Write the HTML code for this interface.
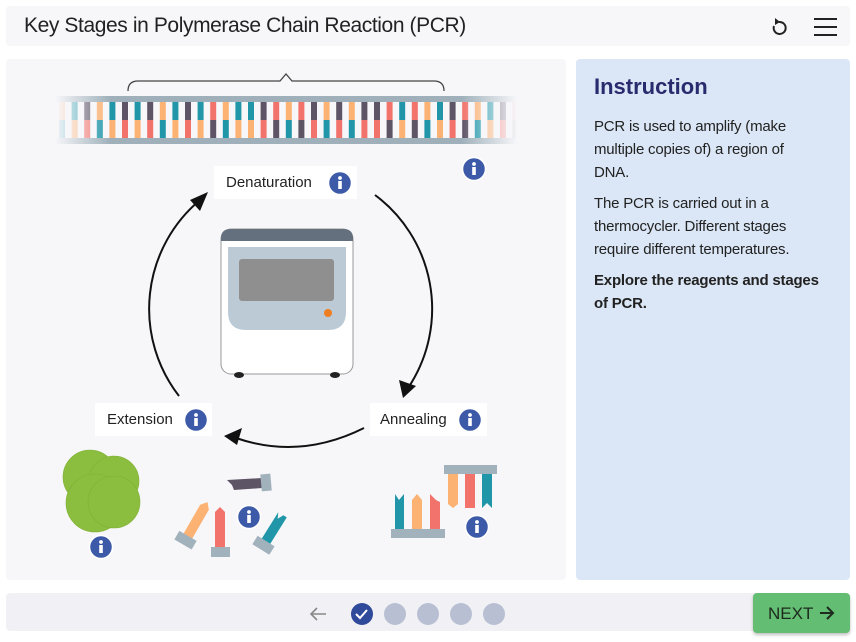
<!DOCTYPE html>
<html><head><meta charset="utf-8"><style>
*{margin:0;padding:0;box-sizing:border-box}
body{width:856px;height:642px;background:#fff;font-family:"Liberation Sans",sans-serif;position:relative;overflow:hidden}
.abs{position:absolute}
#hdr{left:6px;top:6px;width:844px;height:40px;background:#f7f7f9;border-radius:4px}
#hdr span{position:absolute;left:18px;top:8px;font-size:21px;color:#222;letter-spacing:-0.4px}
#left{left:6px;top:59px;width:560px;height:521px;background:#f7f7fa;border-radius:4px}
#right{left:576px;top:59px;width:274px;height:521px;background:#dbe7f6;border-radius:4px}
#right h2{position:absolute;left:18px;top:15px;font-size:22px;color:#2a2a6e;font-weight:bold}
#right p{position:absolute;left:18px;width:224px;font-size:15px;line-height:23px;color:#222;letter-spacing:-0.2px}
#foot{left:6px;top:593px;width:844px;height:38px;background:#f1f1f5;border-radius:4px}
#next{left:753px;top:593px;width:97px;height:40px;background:#63bd72;border-radius:4px;box-shadow:0 2px 3px rgba(0,0,0,.25);color:#1d2a1d;font-size:17px;padding:11px 0 0 15px}
.lbl{position:absolute;background:#fff;font-size:15px;color:#222}
.o{fill:#fbb273}.t{fill:#2196a8}.d{fill:#5d5466}.c{fill:#f2736b}
</style></head><body>
<div id="hdr" class="abs"><span>Key Stages in Polymerase Chain Reaction (PCR)</span>
<svg class="abs" style="left:760px;top:8px" width="80" height="26">
<path d="M13 8 A6 6 0 1 1 8 12" fill="none" stroke="#222" stroke-width="2"/><polygon points="9,4 14,8 9,11" fill="#222"/>
<rect x="48" y="4" width="23" height="2" fill="#222"/><rect x="48" y="12" width="23" height="2" fill="#222"/><rect x="48" y="20" width="23" height="2" fill="#222"/>
</svg></div>
<div id="left" class="abs"></div>
<div id="right" class="abs"><h2>Instruction</h2>
<p style="top:56px">PCR is used to amplify (make multiple copies of) a region of DNA.</p>
<p style="top:133px">The PCR is carried out in a thermocycler. Different stages require different temperatures.</p>
<p style="top:210px;font-weight:bold;width:240px">Explore the reagents and stages of PCR.</p></div>
<div id="foot" class="abs"></div>
<div id="next" class="abs">NEXT<svg style="position:absolute;left:66px;top:13px" width="16" height="14"><path d="M1 7 H14 M8 1 L14 7 L8 13" fill="none" stroke="#1d2a1d" stroke-width="2"/></svg></div>

<svg class="abs" style="left:0;top:0" width="856" height="642">
<defs>
<linearGradient id="fade" x1="0" x2="1"><stop offset="0" stop-color="#fff" stop-opacity="0"/><stop offset="0.12" stop-color="#fff" stop-opacity="1"/><stop offset="0.88" stop-color="#fff" stop-opacity="1"/><stop offset="1" stop-color="#fff" stop-opacity="0"/></linearGradient>
<mask id="m"><rect x="55" y="90" width="462" height="60" fill="url(#fade)"/></mask>
<g id="info"><circle cx="0" cy="0" r="11.5" fill="#3d5aa8" stroke="#fff" stroke-width="1.5"/><circle cx="0" cy="-5" r="1.9" fill="#fff"/><rect x="-1.8" y="-2" width="3.6" height="8" fill="#fff"/></g>
</defs>
<path d="M128 91 Q128 81 138 81 L280 81 L286 74 L292 81 L434 81 Q444 81 444 91" fill="none" stroke="#444" stroke-width="1.3"/>
<g mask="url(#m)">
<rect x="55" y="96" width="462" height="6" fill="#9fb0ba"/>
<rect x="55" y="138" width="462" height="6" fill="#9fb0ba"/>
<g>
<rect class="o" x="59" y="102" width="6" height="18"/><rect class="t" x="59" y="120" width="6" height="18"/>
<rect class="t" x="71.6" y="102" width="6" height="18"/><rect class="o" x="71.6" y="120" width="6" height="18"/>
<rect class="d" x="84.2" y="102" width="6" height="18"/><rect class="c" x="84.2" y="120" width="6" height="18"/>
<rect class="o" x="96.8" y="102" width="6" height="18"/><rect class="t" x="96.8" y="120" width="6" height="18"/>
<rect class="t" x="109.4" y="102" width="6" height="18"/><rect class="o" x="109.4" y="120" width="6" height="18"/>
<rect class="d" x="122" y="102" width="6" height="18"/><rect class="c" x="122" y="120" width="6" height="18"/>
<rect class="t" x="134.6" y="102" width="6" height="18"/><rect class="o" x="134.6" y="120" width="6" height="18"/>
<rect class="d" x="147.2" y="102" width="6" height="18"/><rect class="c" x="147.2" y="120" width="6" height="18"/>
<rect class="o" x="159.8" y="102" width="6" height="18"/><rect class="t" x="159.8" y="120" width="6" height="18"/>
<rect class="t" x="172.4" y="102" width="6" height="18"/><rect class="o" x="172.4" y="120" width="6" height="18"/>
<rect class="d" x="185" y="102" width="6" height="18"/><rect class="c" x="185" y="120" width="6" height="18"/>
<rect class="t" x="197.6" y="102" width="6" height="18"/><rect class="o" x="197.6" y="120" width="6" height="18"/>
<rect class="c" x="210.2" y="102" width="6" height="18"/><rect class="d" x="210.2" y="120" width="6" height="18"/>
<rect class="o" x="222.8" y="102" width="6" height="18"/><rect class="t" x="222.8" y="120" width="6" height="18"/>
<rect class="t" x="235.4" y="102" width="6" height="18"/><rect class="o" x="235.4" y="120" width="6" height="18"/>
<rect class="t" x="248" y="102" width="6" height="18"/><rect class="o" x="248" y="120" width="6" height="18"/>
<rect class="d" x="260.6" y="102" width="6" height="18"/><rect class="c" x="260.6" y="120" width="6" height="18"/>
<rect class="c" x="273.2" y="102" width="6" height="18"/><rect class="d" x="273.2" y="120" width="6" height="18"/>
<rect class="o" x="285.8" y="102" width="6" height="18"/><rect class="t" x="285.8" y="120" width="6" height="18"/>
<rect class="c" x="298.4" y="102" width="6" height="18"/><rect class="d" x="298.4" y="120" width="6" height="18"/>
<rect class="d" x="311" y="102" width="6" height="18"/><rect class="c" x="311" y="120" width="6" height="18"/>
<rect class="o" x="323.6" y="102" width="6" height="18"/><rect class="t" x="323.6" y="120" width="6" height="18"/>
<rect class="d" x="336.2" y="102" width="6" height="18"/><rect class="c" x="336.2" y="120" width="6" height="18"/>
<rect class="o" x="348.8" y="102" width="6" height="18"/><rect class="t" x="348.8" y="120" width="6" height="18"/>
<rect class="d" x="361.4" y="102" width="6" height="18"/><rect class="c" x="361.4" y="120" width="6" height="18"/>
<rect class="d" x="374" y="102" width="6" height="18"/><rect class="c" x="374" y="120" width="6" height="18"/>
<rect class="c" x="386.6" y="102" width="6" height="18"/><rect class="d" x="386.6" y="120" width="6" height="18"/>
<rect class="t" x="399.2" y="102" width="6" height="18"/><rect class="o" x="399.2" y="120" width="6" height="18"/>
<rect class="c" x="411.8" y="102" width="6" height="18"/><rect class="d" x="411.8" y="120" width="6" height="18"/>
<rect class="o" x="424.4" y="102" width="6" height="18"/><rect class="t" x="424.4" y="120" width="6" height="18"/>
<rect class="t" x="437" y="102" width="6" height="18"/><rect class="o" x="437" y="120" width="6" height="18"/>
<rect class="d" x="449.6" y="102" width="6" height="18"/><rect class="c" x="449.6" y="120" width="6" height="18"/>
<rect class="c" x="462.2" y="102" width="6" height="18"/><rect class="d" x="462.2" y="120" width="6" height="18"/>
<rect class="o" x="474.8" y="102" width="6" height="18"/><rect class="t" x="474.8" y="120" width="6" height="18"/>
<rect class="t" x="487.4" y="102" width="6" height="18"/><rect class="o" x="487.4" y="120" width="6" height="18"/>
<rect class="d" x="500" y="102" width="6" height="18"/><rect class="c" x="500" y="120" width="6" height="18"/>
<rect class="c" x="512.6" y="102" width="6" height="18"/><rect class="d" x="512.6" y="120" width="6" height="18"/>
</g>
</g>
<!-- thermocycler -->
<rect x="221" y="229" width="132" height="145" rx="10" fill="#fff" stroke="#999" stroke-width="1"/>
<path d="M221 241 V238 Q221 229 231 229 H343 Q353 229 353 238 V241 Z" fill="#64707e"/>
<path d="M228 247 H346 V312 Q346 330 328 330 H246 Q228 330 228 312 Z" fill="#bccad6"/>
<rect x="239" y="259" width="95" height="42" rx="3" fill="#8f8f8f"/>
<circle cx="328" cy="313" r="4" fill="#ef7d22"/>
<ellipse cx="239" cy="375" rx="5" ry="3" fill="#222"/><ellipse cx="335" cy="375" rx="5" ry="3" fill="#222"/>
<!-- arrows -->
<g fill="none" stroke="#111" stroke-width="2">
<path d="M375 195 A142 142 0 0 1 410 385"/>
<path d="M364 428 Q300 460 236 438"/>
<path d="M179 396 A142 142 0 0 1 200 200"/>
</g>
<polygon points="403,398 399,380 416,386" fill="#111"/>
<polygon points="224,436 242,428 237,445" fill="#111"/>
<polygon points="208,192 200,211 190,200" fill="#111"/>
<!-- polymerase -->
<g fill="#8bbd3f" stroke="#7fb035" stroke-width="0.6">
<circle cx="90" cy="477" r="27"/><circle cx="114" cy="481" r="25"/><circle cx="95" cy="503" r="29"/><circle cx="114" cy="502" r="26"/>
</g>
<!-- primers -->
<polygon points="227,480 262,478 262,488 234,490 232,485" fill="#5d5466"/><rect x="261" y="474" width="10" height="17" fill="#a2b2bd" transform="rotate(-5 266 482)"/>
<g transform="rotate(30 196 522)"><polygon points="191,505 196,499 201,505 201,540 191,540" fill="#fbb273"/><rect x="186" y="538" width="20" height="10" fill="#a2b2bd"/></g>
<polygon points="215,512 220,507 225,512 225,548 215,548" fill="#f2736b"/><rect x="211" y="547" width="19" height="10" fill="#a2b2bd"/>
<g transform="rotate(32 273 530)"><polygon points="268,512 271,518 274,512 278,512 278,545 268,545" fill="#2196a8"/><rect x="263" y="543" width="20" height="10" fill="#a2b2bd"/></g>
<!-- annealing -->
<rect x="444" y="465" width="53" height="9" fill="#a2b2bd"/>
<polygon points="448,474 458,474 458,504 453,508 448,504" fill="#fbb273"/>
<polygon points="465,474 475,474 475,508 465,508" fill="#f2736b"/>
<polygon points="482,474 492,474 492,508 487,503 482,508" fill="#2196a8"/>
<rect x="391" y="529" width="54" height="9" fill="#a2b2bd"/>
<polygon points="395,494 399,500 404,494 404,529 395,529" fill="#2196a8"/>
<polygon points="412,500 417,494 422,500 422,529 412,529" fill="#fbb273"/>
<polygon points="430,494 436,500 440,502 440,529 430,529" fill="#f2736b"/>
<!-- footer nav -->
<path d="M311 614 H326 M317 608 L311 614 L317 620" fill="none" stroke="#888" stroke-width="1.6"/>
<circle cx="362" cy="614" r="11" fill="#2f4a9a"/><path d="M356 614 L360 618 L367 610" fill="none" stroke="#fff" stroke-width="2"/>
<circle cx="395" cy="614" r="11" fill="#b9bfd3"/><circle cx="428" cy="614" r="11" fill="#b9bfd3"/><circle cx="461" cy="614" r="11" fill="#b9bfd3"/><circle cx="494" cy="614" r="11" fill="#b9bfd3"/>
</svg>

<div class="lbl" style="left:214px;top:166px;width:143px;height:33px;padding:8px 0 0 12px">Denaturation</div>
<div class="lbl" style="left:370px;top:403px;width:117px;height:33px;padding:8px 0 0 10px">Annealing</div>
<div class="lbl" style="left:95px;top:403px;width:117px;height:33px;padding:8px 0 0 12px">Extension</div>

<svg class="abs" style="left:0;top:0" width="856" height="642">
<use href="#info" x="340" y="183"/>
<use href="#info" x="474" y="169"/>
<use href="#info" x="470" y="420"/>
<use href="#info" x="196" y="420"/>
<use href="#info" x="249" y="517"/>
<use href="#info" x="101" y="547"/>
<use href="#info" x="477" y="527"/>
</svg>
</body></html>
